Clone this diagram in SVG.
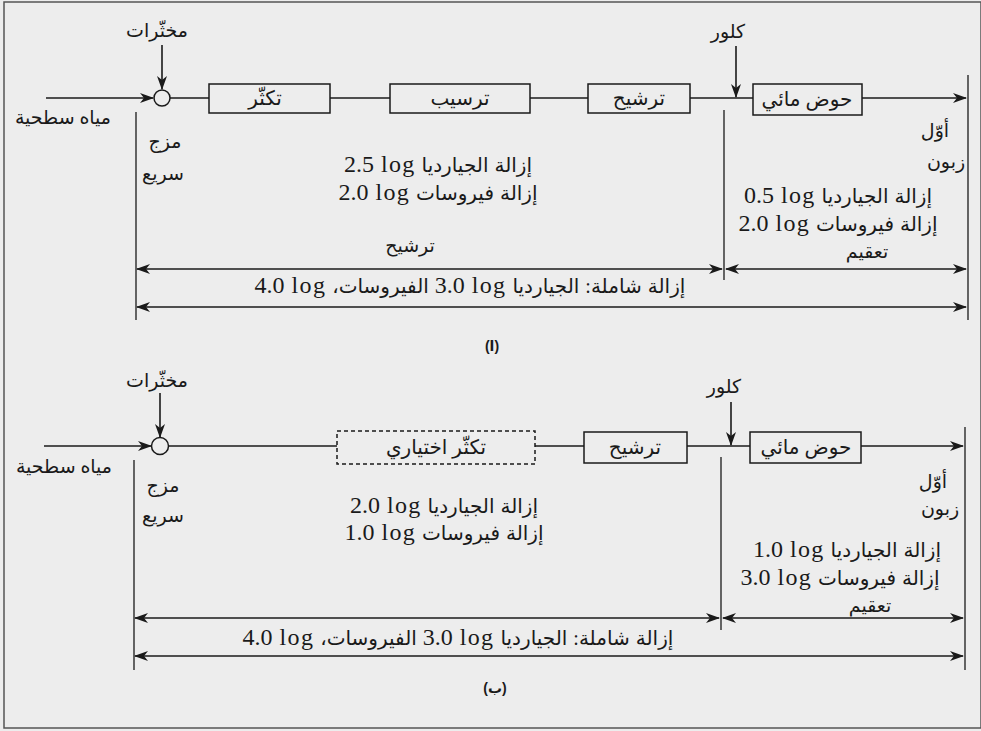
<svg xmlns="http://www.w3.org/2000/svg" width="981" height="731" viewBox="0 0 981 731">
<style>
  .bg { fill: #ededed; }
  .frame { fill: none; stroke: #555; stroke-width: 1.5; }
  .ln { stroke: #1a1a1a; stroke-width: 1.6; fill: none; }
  .thin { stroke: #1a1a1a; stroke-width: 1.3; fill: none; }
  .box { fill: none; stroke: #1a1a1a; stroke-width: 1.5; }
  .dbox { fill: none; stroke: #1a1a1a; stroke-width: 1.5; stroke-dasharray: 4 3; }
  .node { fill: #ededed; stroke: #1a1a1a; stroke-width: 1.5; }
  text { font-family: "Liberation Serif", "DejaVu Sans", serif; fill: #1a1a1a; }
  .ar { font-size: 19px; text-anchor: middle; direction: rtl; }
  .bx { font-size: 20px; text-anchor: middle; direction: rtl; }
  .mx { font-size: 20px; text-anchor: middle; direction: rtl; word-spacing: 1px; }
  .lat { font-size: 24px; letter-spacing: 1.3px; }
  .cap { font-family: "Liberation Sans", "DejaVu Sans", sans-serif; font-size: 14px; font-weight: bold; text-anchor: middle; direction: rtl; }
</style>
<defs>
  <marker id="ah" viewBox="0 0 14 10" refX="13" refY="5" markerWidth="14" markerHeight="10" markerUnits="userSpaceOnUse" orient="auto-start-reverse">
    <path d="M0,0 L14,5 L0,10 L4,5 Z" fill="#1a1a1a"/>
  </marker>
</defs>
<rect class="bg" x="0" y="0" width="981" height="731"/>
<rect class="frame" x="4" y="2" width="977" height="726"/>

<!-- ========== Panel A ========== -->
<g id="connectors-a">
  <line class="ln" x1="46" y1="98" x2="153" y2="98" marker-end="url(#ah)"/>
  <line class="ln" x1="162" y1="45" x2="162" y2="89" marker-end="url(#ah)"/>
  <line class="ln" x1="170" y1="98" x2="209" y2="98"/>
  <line class="ln" x1="330" y1="98" x2="390" y2="98"/>
  <line class="ln" x1="530" y1="98" x2="588" y2="98"/>
  <line class="ln" x1="690" y1="98" x2="753" y2="98"/>
  <line class="ln" x1="736" y1="46" x2="736" y2="97" marker-end="url(#ah)"/>
  <line class="ln" x1="862" y1="98" x2="966" y2="98" marker-end="url(#ah)"/>
  <line class="thin" x1="136" y1="112" x2="136" y2="320"/>
  <line class="thin" x1="724" y1="110" x2="724" y2="280"/>
  <line class="thin" x1="968" y1="75" x2="968" y2="320"/>
  <line class="ln" x1="137" y1="269" x2="722" y2="269" marker-start="url(#ah)" marker-end="url(#ah)"/>
  <line class="ln" x1="726" y1="269" x2="966" y2="269" marker-start="url(#ah)" marker-end="url(#ah)"/>
  <line class="ln" x1="137" y1="307" x2="966" y2="307" marker-start="url(#ah)" marker-end="url(#ah)"/>
</g>
<g id="a-coagulant"><text class="ar" x="157" y="37">مخثّرات</text></g>
<g id="a-surface"><text class="ar" x="63" y="124">مياه سطحية</text></g>
<g id="a-mix">
  <circle class="node" cx="162" cy="98" r="8"/>
  <text class="ar" x="165" y="148">مزج</text>
  <text class="ar" x="163" y="180">سريع</text>
</g>
<g id="a-floc"><rect class="box" x="209" y="84" width="121" height="29"/><text class="bx" x="265" y="105">تكثّر</text></g>
<g id="a-sed"><rect class="box" x="390" y="84" width="140" height="29"/><text class="bx" x="460" y="105">ترسيب</text></g>
<g id="a-filt"><rect class="box" x="588" y="84" width="102" height="29"/><text class="bx" x="639" y="105">ترشيح</text></g>
<g id="a-chlorine"><text class="ar" x="728" y="38">كلور</text></g>
<g id="a-basin"><rect class="box" x="753" y="84" width="109" height="31"/><text class="bx" x="807" y="106">حوض مائي</text></g>
<g id="a-customer">
  <text class="ar" x="935" y="137">أوّل</text>
  <text class="ar" x="946" y="168">زبون</text>
</g>
<g id="a-filt-removal">
  <text class="mx" x="438" y="172">إزالة الجيارديا  <tspan class="lat">&#x200E;2.5 log</tspan></text>
  <text class="mx" x="438" y="200">إزالة فيروسات  <tspan class="lat">&#x200E;2.0 log</tspan></text>
  <text class="ar" x="410" y="252">ترشيح</text>
</g>
<g id="a-disinf-removal">
  <text class="mx" x="838" y="203">إزالة الجيارديا  <tspan class="lat">&#x200E;0.5 log</tspan></text>
  <text class="mx" x="838" y="231">إزالة فيروسات <tspan class="lat">&#x200E;2.0 log</tspan></text>
  <text class="ar" x="867" y="258">تعقيم</text>
</g>
<g id="a-total"><text class="mx" x="470" y="293">إزالة شاملة: الجيارديا  <tspan class="lat">&#x200E;3.0 log</tspan>  الفيروسات، <tspan class="lat">&#x200E;4.0 log</tspan></text></g>
<g id="a-caption"><text class="cap" x="492" y="351">(ا)</text></g>

<!-- ========== Panel B ========== -->
<g id="connectors-b">
  <line class="ln" x1="44" y1="446" x2="151" y2="446" marker-end="url(#ah)"/>
  <line class="ln" x1="160" y1="393" x2="160" y2="437" marker-end="url(#ah)"/>
  <line class="ln" x1="168" y1="446" x2="337" y2="446"/>
  <line class="ln" x1="535" y1="446" x2="584" y2="446"/>
  <line class="ln" x1="687" y1="446" x2="750" y2="446"/>
  <line class="ln" x1="731" y1="402" x2="731" y2="445" marker-end="url(#ah)"/>
  <line class="ln" x1="861" y1="446" x2="963" y2="446" marker-end="url(#ah)"/>
  <line class="thin" x1="134" y1="460" x2="134" y2="670"/>
  <line class="thin" x1="721" y1="457" x2="721" y2="630"/>
  <line class="thin" x1="965" y1="427" x2="965" y2="670"/>
  <line class="ln" x1="135" y1="618" x2="719" y2="618" marker-start="url(#ah)" marker-end="url(#ah)"/>
  <line class="ln" x1="723" y1="618" x2="963" y2="618" marker-start="url(#ah)" marker-end="url(#ah)"/>
  <line class="ln" x1="135" y1="656" x2="963" y2="656" marker-start="url(#ah)" marker-end="url(#ah)"/>
</g>
<g id="b-coagulant"><text class="ar" x="157" y="387">مخثّرات</text></g>
<g id="b-surface"><text class="ar" x="64" y="473">مياه سطحية</text></g>
<g id="b-mix">
  <circle class="node" cx="160" cy="446" r="8.5"/>
  <text class="ar" x="163" y="492">مزج</text>
  <text class="ar" x="163" y="522">سريع</text>
</g>
<g id="b-floc"><rect class="dbox" x="337" y="431" width="198" height="33"/><text class="bx" x="436" y="454">تكثّر اختياري</text></g>
<g id="b-filt"><rect class="box" x="584" y="432" width="103" height="31"/><text class="bx" x="635" y="454">ترشيح</text></g>
<g id="b-chlorine"><text class="ar" x="724" y="393">كلور</text></g>
<g id="b-basin"><rect class="box" x="750" y="432" width="111" height="31"/><text class="bx" x="806" y="454">حوض مائي</text></g>
<g id="b-customer">
  <text class="ar" x="933" y="488">أوّل</text>
  <text class="ar" x="940" y="515">زبون</text>
</g>
<g id="b-filt-removal">
  <text class="mx" x="444" y="513">إزالة الجيارديا  <tspan class="lat">&#x200E;2.0 log</tspan></text>
  <text class="mx" x="444" y="540">إزالة فيروسات  <tspan class="lat">&#x200E;1.0 log</tspan></text>
</g>
<g id="b-disinf-removal">
  <text class="mx" x="847" y="557">إزالة الجيارديا  <tspan class="lat">&#x200E;1.0 log</tspan></text>
  <text class="mx" x="840" y="585">إزالة فيروسات <tspan class="lat">&#x200E;3.0 log</tspan></text>
  <text class="ar" x="870" y="612">تعقيم</text>
</g>
<g id="b-total"><text class="mx" x="458" y="645">إزالة شاملة: الجيارديا  <tspan class="lat">&#x200E;3.0 log</tspan> الفيروسات، <tspan class="lat">&#x200E;4.0 log</tspan></text></g>
<g id="b-caption"><text class="cap" x="495" y="693">(ب)</text></g>
</svg>
